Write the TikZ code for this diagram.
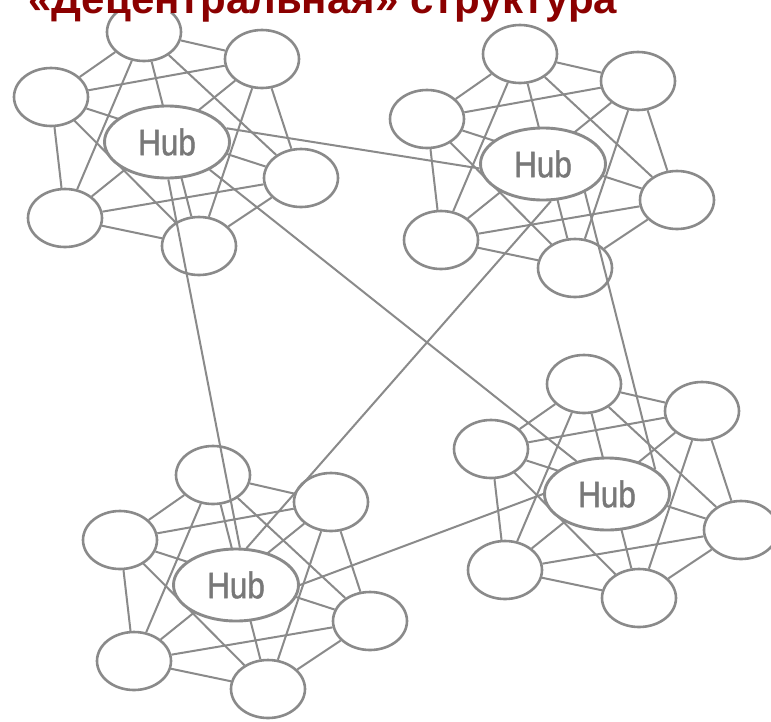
\documentclass[tikz,border=0pt]{standalone}
\usepackage{fontspec}
\setmainfont{Liberation Sans}
\newfontfamily\hubfont[FakeStretch=0.85,FakeBold=1.2]{Liberation Sans}
\usetikzlibrary{shapes.geometric}
\definecolor{netgray}{RGB}{138,138,138}
\definecolor{hubgray}{RGB}{120,120,120}
\definecolor{titlered}{RGB}{139,0,0}
\pgfdeclarelayer{back}
\pgfsetlayers{back,main}

\begin{document}
\begin{tikzpicture}[x=1pt,y=-1pt,
    sat/.style={ellipse,draw=netgray,line width=2.6pt,minimum width=74pt,minimum height=58pt,inner sep=0pt},
    hub/.style={ellipse,draw=netgray,fill=white,line width=2.9pt,minimum width=125pt,minimum height=72pt,inner sep=0pt,
                text=hubgray,font=\hubfont\fontsize{37}{40}\selectfont},
    link/.style={netgray,line width=2pt}]
    \useasboundingbox (0,0) rectangle (771,721);
    \begin{pgfonlayer}{back}
        \fill[white] (0,0) rectangle (771,721);
    \end{pgfonlayer}

    % four clusters: a hub with six nodes round it
    \foreach \cl/\hx/\hy in {1/167/142, 2/543/164, 3/236/585, 4/607/494}{
        \node[hub] (hub\cl) at (\hx,\hy) {Hub};
        \node[sat] (n\cl)  at (\hx-23,\hy-110) {};
        \node[sat] (ne\cl) at (\hx+95,\hy-83) {};
        \node[sat] (w\cl)  at (\hx-116,\hy-45) {};
        \node[sat] (e\cl)  at (\hx+134,\hy+36) {};
        \node[sat] (sw\cl) at (\hx-102,\hy+76) {};
        \node[sat] (s\cl)  at (\hx+32,\hy+104) {};
        % every node linked to every other one, behind the hub
        \begin{pgfonlayer}{back}
            \foreach \a/\b in {n/ne, ne/e, e/s, s/sw, sw/w, w/n,
                               n/sw, n/s, n/e, ne/w, ne/sw, ne/s, w/e, w/s, sw/e}
                \draw[link] (\a\cl) -- (\b\cl);
        \end{pgfonlayer}
    }

    % links between the hubs
    \begin{pgfonlayer}{back}
        \draw[link] (hub1.13) -- (hub2.184);
        \draw[link] (hub1.-88) -- (hub3.84);
        \draw[link] (hub1.-33) -- (hub4.133);
        \draw[link] (hub2.-78) -- (hub3.74);
        \draw[link] (hub2.-34) -- (hub4.27);
        \draw[link] (hub3.0) -- (hub4.180);
    \end{pgfonlayer}

    \node[anchor=base west,inner sep=0pt,fill=white,text depth=0pt,text=titlered,
          font=\bfseries\fontsize{42}{46}\selectfont] (title) at (28,13) {«Децентральная» структура};
\end{tikzpicture}
\end{document}
